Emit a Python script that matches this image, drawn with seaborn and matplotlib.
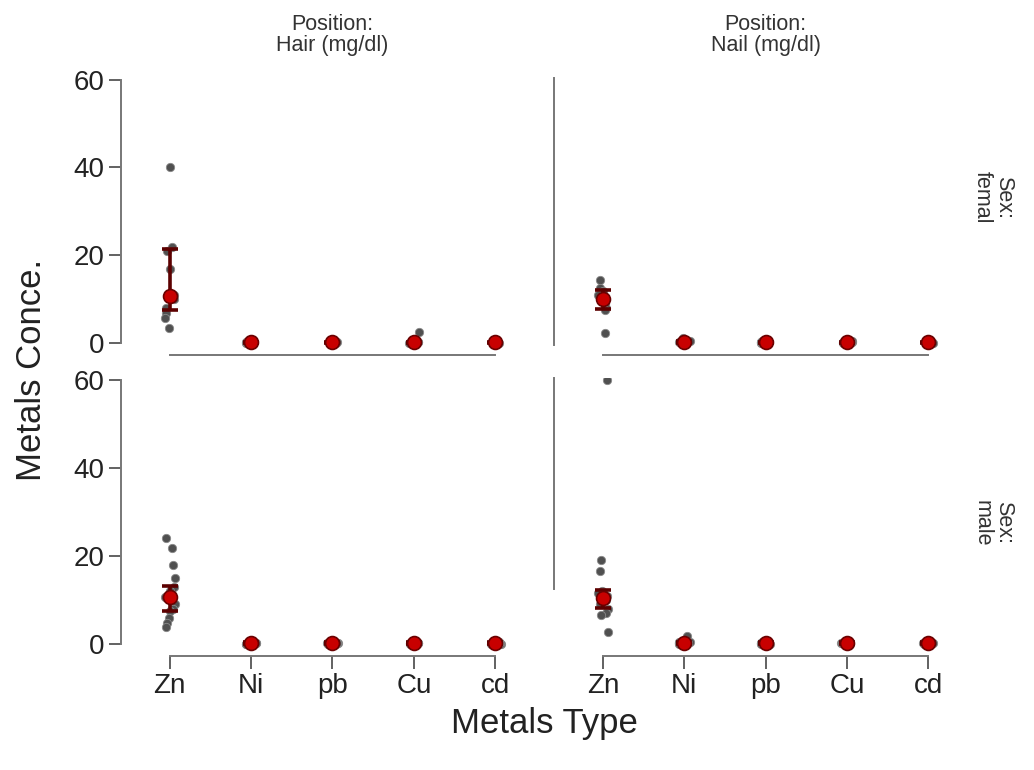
import numpy as np
import pandas as pd
import seaborn as sns
import matplotlib.pyplot as plt

# ======================
# 1. Data
# ======================
metals = ['Zn', 'Ni', 'pb', 'Cu', 'cd']
positions = ['Hair (mg/dl)', 'Nail (mg/dl)']
sexes = ['femal', 'male']

# individual measurements, Zn
zn_fem_hair = [40, 22, 21, 17, 11, 10, 8, 6.8, 5.7, 3.5]
zn_fem_nail = [14.4, 12.5, 12, 11, 10.5, 10, 9, 8, 7.5, 2.3]
zn_male_hair = [24, 21.8, 18, 15, 13, 12, 10.7, 10, 9, 8, 7.5, 6, 4.8, 3.9]
zn_male_nail = [60, 19, 16.5, 12, 11.8, 11.5, 11, 10.5, 10, 9, 8, 7, 6.6, 2.7]

# trace metals (Ni, pb, Cu, cd) - all close to zero
trace_fem = [0.1, 0.2, 0.3, 0.2, 0.4, 0.1, 0.3, 0.2, 0.5, 0.2]
trace_male = [0.1, 0.2, 0.3, 0.2, 0.4, 0.1, 0.3, 0.2, 0.5, 0.2, 0.3, 0.1, 0.2, 0.4]
cu_fem_hair_extra = 2.5
ni_fem_nail_extra = 1.1
ni_male_nail_extra = 1.8

# summary point (centre) and error bar limits per panel, order = metals
center_fem_hair = [10.7, 0.2, 0.2, 0.2, 0.2]
low_fem_hair = [7.5, 0.1, 0.1, 0.1, 0.1]
high_fem_hair = [21.5, 0.35, 0.35, 0.35, 0.35]

center_fem_nail = [10.0, 0.3, 0.2, 0.2, 0.2]
low_fem_nail = [7.8, 0.1, 0.1, 0.1, 0.1]
high_fem_nail = [12.2, 0.5, 0.35, 0.35, 0.35]

center_male_hair = [10.6, 0.2, 0.2, 0.2, 0.2]
low_male_hair = [7.6, 0.1, 0.1, 0.1, 0.1]
high_male_hair = [13.2, 0.35, 0.35, 0.35, 0.35]

center_male_nail = [10.5, 0.3, 0.2, 0.2, 0.2]
low_male_nail = [8.2, 0.1, 0.1, 0.1, 0.1]
high_male_nail = [12.3, 0.5, 0.35, 0.35, 0.35]

# ======================
# 2. Build long table
# ======================
rows = []
def add_panel(sex, pos, zn, trace, extras):
    for v in zn:
        rows.append((sex, pos, 'Zn', v))
    for m in metals[1:]:
        vals = list(trace)
        if m in extras:
            vals[0] = extras[m]
        for v in vals:
            rows.append((sex, pos, m, v))

add_panel('femal', 'Hair (mg/dl)', zn_fem_hair, trace_fem, {'Cu': cu_fem_hair_extra})
add_panel('femal', 'Nail (mg/dl)', zn_fem_nail, trace_fem, {'Ni': ni_fem_nail_extra})
add_panel('male', 'Hair (mg/dl)', zn_male_hair, trace_male, {})
add_panel('male', 'Nail (mg/dl)', zn_male_nail, trace_male, {'Ni': ni_male_nail_extra})
df = pd.DataFrame(rows, columns=['Sex', 'Position', 'Metal', 'Value'])

summary = {
    ('femal', 'Hair (mg/dl)'): (center_fem_hair, low_fem_hair, high_fem_hair),
    ('femal', 'Nail (mg/dl)'): (center_fem_nail, low_fem_nail, high_fem_nail),
    ('male', 'Hair (mg/dl)'): (center_male_hair, low_male_hair, high_male_hair),
    ('male', 'Nail (mg/dl)'): (center_male_nail, low_male_nail, high_male_nail),
}

# ======================
# 3. Plot
# ======================
sns.set_style('white')
plt.rcParams['font.family'] = ['Liberation Sans', 'DejaVu Sans']

fig, axes = plt.subplots(2, 2, figsize=(10.34, 7.7), dpi=100)
fig.subplots_adjust(left=0.117, right=0.945, bottom=0.148, top=0.899,
                    wspace=0.024, hspace=0.083)

np.random.seed(3)
for i, sex in enumerate(sexes):
    for j, pos in enumerate(positions):
        ax = axes[i, j]
        sub = df[(df['Sex'] == sex) & (df['Position'] == pos)]
        sns.stripplot(data=sub, x='Metal', y='Value', order=metals, ax=ax,
                      color='#505050', size=6, jitter=0.07,
                      edgecolor='#8a8a8a', linewidth=0.6, zorder=2)
        c, lo, hi = summary[(sex, pos)]
        xs = np.arange(len(metals))
        c = np.array(c)
        ax.errorbar(xs, c, yerr=[c - np.array(lo), np.array(hi) - c],
                    fmt='none', ecolor='#5c0000', elinewidth=2.6,
                    capsize=6, capthick=2.6, zorder=3)
        ax.plot(xs, c, 'o', color='#c80000', markeredgecolor='#6a0000',
                markeredgewidth=1.2, markersize=10, zorder=4)

        ax.set_xlim(-0.6, 4.6)
        ax.set_ylim(-2.75, 60.4)
        ax.set_xlabel('')
        ax.set_ylabel('')
        sns.despine(ax=ax)
        for s in ['left', 'bottom']:
            ax.spines[s].set_color('#777777')
            ax.spines[s].set_linewidth(1.4)
        ax.spines['bottom'].set_bounds(0, 4)
        ax.set_yticks([0, 20, 40, 60])
        ax.tick_params(axis='both', bottom=True, left=True, labelsize=20,
                       length=9, width=1.3, color='#555555',
                       labelcolor='#222222', pad=3)

        if j == 0:
            ax.spines['left'].set_bounds(0, 60)
        else:
            ax.tick_params(axis='y', left=False, labelleft=False)
            if i == 0:
                ax.spines['left'].set_bounds(-0.5, 60.4)
            else:
                ax.spines['left'].set_bounds(12.5, 60.4)
        if i == 0:
            ax.tick_params(axis='x', bottom=False, labelbottom=False)
            ax.set_title('Position:\n' + pos, fontsize=15.5, color='#333333',
                         pad=19, linespacing=1.0)
        if j == 1:
            ax.text(1.037, 0.57 if i == 0 else 0.48, 'Sex:\n' + sex,
                    transform=ax.transAxes, rotation=270, fontsize=15.5,
                    color='#333333', ha='center', va='center', linespacing=1.0)

fig.text(0.03, 0.52, 'Metals Conce.', rotation=90, fontsize=25,
         color='#222222', ha='center', va='center')
fig.text(0.527, 0.061, 'Metals Type', fontsize=25, color='#222222',
         ha='center', va='center')

fig.savefig('out.png', dpi=100)
